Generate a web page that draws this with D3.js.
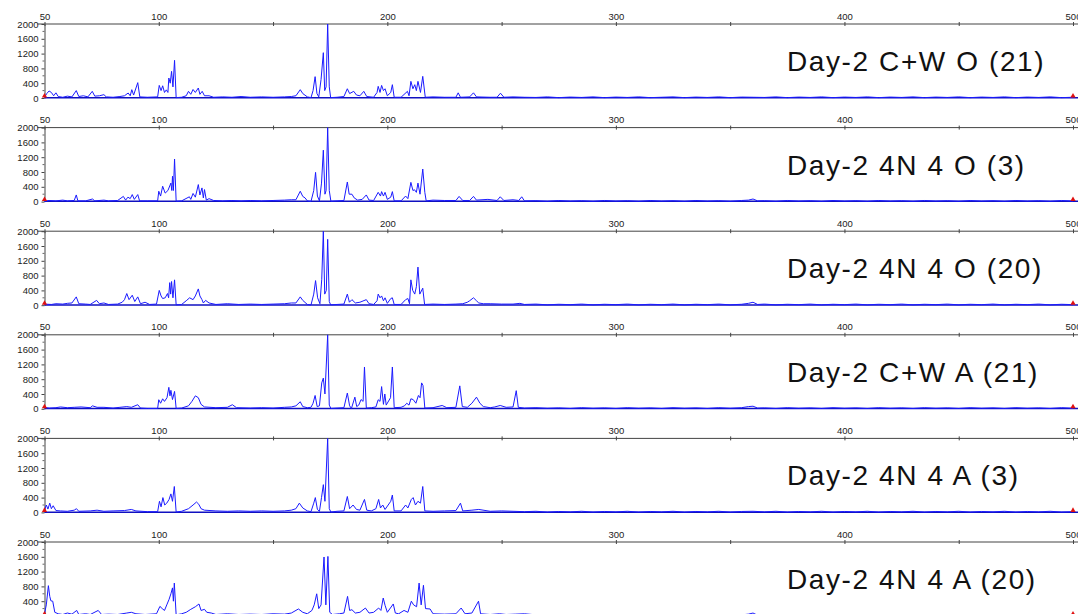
<!DOCTYPE html>
<html>
<head>
<meta charset="utf-8">
<script src="https://cdn.jsdelivr.net/npm/d3@7"></script>
<style>
  html, body { margin: 0; padding: 0; background: #ffffff; }
  svg { display: block; }
</style>
</head>
<body>
<svg id="chart" width="1078" height="614"></svg>
<script>
// Fragment-size axis (top of every trace) and intensity axis (left)
const sizeTicks = [50, 100, 150, 200, 250, 300, 350, 400, 450, 500];
const sizeTickLabels = [50, 100, 200, 300, 400, 500];
const intensityTicks = [0, 400, 800, 1200, 1600, 2000];
const intensityMinorTicks = [200, 600, 1000, 1400, 1800];
const sizeDomain = [50, 500];
const intensityDomain = [0, 2000];

// Sample names, one per trace
const sampleNames = [
  "Day-2 C+W O (21)",
  "Day-2 4N 4 O (3)",
  "Day-2 4N 4 O (20)",
  "Day-2 C+W A (21)",
  "Day-2 4N 4 A (3)",
  "Day-2 4N 4 A (20)"
];

// Electropherogram traces: [fragment size, fluorescence intensity]
const traceCWO21 = [
  [50,20],[51,120],[52,190],[53,150],[54,60],[55,140],[56,40],[58,20],[60,50],[62,30],[63.9,200],[65,40],[67,60],[69,30],
  [70.9,180],[72,50],[74,60],[76,90],[77,30],[80,20],[83,40],[85,60],[86.6,135],[87.5,60],[88.2,225],[89,80],[90.8,415],
  [91.7,30],[95,20],[99.5,30],[100.2,340],[101,200],[101.7,330],[102.5,150],[103.3,220],[104,150],[104.4,540],[105,400],
  [105.6,720],[106.2,300],[106.9,1018],[107.6,10],[110,20],[112,60],[113,180],[114,100],[115,230],[116,150],[117.3,270],
  [118,100],[119,180],[120,60],[122,60],[124,20],[128,30],[132,20],[136,40],[140,20],[145,30],[150,20],[155,30],[158,40],
  [160,60],[161.9,225],[163,120],[165,30],[166.6,10],[167.5,200],[168.4,577],[169.2,120],[170,30],[171,500],[172,1225],
  [172.6,200],[173.2,300],[173.9,2000],[174.6,300],[175.2,10],[178,20],[181,40],[182.5,250],[183.5,120],[185.3,180],
  [186.5,80],[188,60],[189.7,180],[191,40],[194,20],[195.5,150],[196,315],[196.8,150],[197.5,340],[198.3,200],[199,250],
  [200,60],[201.5,150],[202.2,360],[203,20],[206,20],[208.8,180],[209.5,60],[210.3,450],[211.2,250],[212,360],[212.7,200],
  [213.4,450],[214.5,150],[215.5,585],[216.6,20],[220,30],[225,20],[230,20],[231,140],[232,20],[236,30],[237.7,140],[239,30],
  [245,20],[248,20],[249.5,130],[251,20],[255,30],[260,20],[265,15],[270,30],[275,10],[280,25],[285,15],[290,30],[295,10],
  [300,25],[305,15],[310,30],[315,10],[320,20],[325,30],[330,10],[335,25],[340,15],[345,30],[350,10],[355,25],[360,20],
  [365,15],[370,30],[375,10],[380,25],[385,15],[390,30],[395,10],[400,25],[405,15],[410,30],[415,10],[420,25],[425,15],
  [430,30],[435,10],[440,25],[445,15],[450,30],[455,10],[460,25],[465,15],[470,30],[475,10],[480,25],[485,15],[490,30],
  [495,10],[500,20]
];

const trace4N4O3 = [
  [50,10],[52,30],[55,20],[58,40],[60,20],[63,30],[63.9,180],[64.6,20],[68,20],[71,70],[72,20],[76,40],[78,20],[82,30],
  [84.5,140],[85.5,40],[86.5,120],[87.5,80],[88.4,190],[89.3,60],[90.8,190],[91.6,20],[95,20],[99.5,20],[100,280],
  [100.8,150],[101.7,415],[102.8,230],[104,300],[105.3,500],[105.7,300],[106,685],[106.4,300],[106.9,1150],[107.6,10],
  [110,20],[113.4,130],[114,60],[115,220],[116,120],[117.3,460],[118,180],[118.9,370],[119.5,100],[120,325],[120.8,40],
  [122,80],[124,30],[128,20],[132,30],[136,20],[140,30],[145,20],[150,30],[155,40],[158,50],[160,50],[161.9,280],
  [163,140],[164,100],[165,20],[166.6,5],[167.8,300],[168.6,790],[169.4,150],[170.3,20],[171.2,500],[172,1390],
  [172.7,200],[173.2,300],[173.9,2000],[174.6,300],[175.3,10],[178,20],[181,30],[182.5,530],[183.3,200],[184.5,200],
  [185.5,100],[187,40],[189,60],[190.8,180],[192,40],[194,30],[196,250],[197,150],[197.5,270],[198.3,150],[199,250],
  [200,60],[201.5,120],[202.2,270],[203,20],[206,20],[208,150],[209,80],[210.3,520],[211.2,300],[211.9,320],[212.7,250],
  [213.4,500],[214.3,200],[215.5,880],[216.4,250],[217,20],[220,40],[225,30],[230,30],[231.4,140],[233,30],[236,30],[237.7,140],[239,40],
  [244,60],[248,30],[249.4,130],[251,30],[255,50],[257.5,30],[258.8,130],[260,20],[265,25],[270,10],[275,30],[280,15],[285,25],[290,10],
  [295,30],[300,15],[305,25],[310,10],[315,30],[320,15],[325,25],[330,10],[335,30],[340,15],[345,25],[350,10],[355,30],
  [358,40],[360,70],[362,20],[365,25],[370,10],[375,30],[380,15],[385,25],[390,10],[395,30],[400,15],[405,25],[410,10],
  [415,30],[420,15],[425,25],[430,10],[435,30],[440,15],[445,25],[450,10],[455,30],[460,15],[465,25],[470,10],[475,30],
  [480,15],[485,25],[490,10],[495,30],[500,15]
];

const trace4N4O20 = [
  [50,30],[53,20],[55,40],[58,30],[60,50],[62,60],[63.9,225],[65,40],[68,30],[70,20],[72.8,130],[74,40],[76,60],[78,20],
  [82,30],[84,80],[85,150],[86,315],[87,150],[88.4,270],[89.5,100],[90.8,225],[92,40],[94,80],[96,20],[99,30],
  [100.2,400],[101,250],[101.7,180],[102.8,200],[103.8,315],[104.3,200],[104.8,610],[105.2,300],[105.6,640],[106.2,200],
  [106.9,685],[107.6,10],[110,20],[112,120],[113.5,200],[115,150],[116,250],[117.3,440],[118,250],[118.9,150],[119.5,60],
  [120.5,130],[122,60],[125,20],[130,40],[135,20],[140,30],[145,20],[150,30],[155,40],[158,60],[160,60],[161.9,225],
  [163,130],[165,20],[166.6,5],[167.8,300],[168.6,665],[169.5,200],[170.5,40],[171.3,700],[172,2000],[172.6,300],
  [173.3,400],[173.9,1780],[174.6,100],[175.2,10],[178,20],[181,30],[182.5,300],[183.4,80],[184.5,150],[186,60],[188,80],
  [190.8,150],[192,40],[194,20],[195.5,120],[196,300],[196.8,200],[197.5,250],[198.3,120],[199,200],[200,50],[201.5,180],
  [202.2,200],[203,20],[206,20],[208,150],[209,180],[209.7,40],[210.3,685],[211.1,400],[212,300],[212.7,500],[213.4,1030],
  [214.2,300],[215.5,460],[216.3,20],[220,30],[225,20],[230,30],[233,40],[235,80],[236,120],[237.7,200],[239,120],[240,60],[242,40],[245,40],
  [250,30],[255,30],[258,50],[260,20],[265,30],[270,10],[275,25],[280,15],[285,30],[290,10],[295,25],[300,15],[305,30],[310,10],
  [315,25],[320,15],[325,30],[330,10],[335,25],[340,15],[345,30],[350,10],[355,25],[358,50],[360,80],[362,20],[365,30],
  [370,10],[375,25],[380,15],[385,30],[390,10],[395,25],[400,15],[405,30],[410,10],[415,25],[420,15],[425,30],[430,10],
  [435,25],[440,15],[445,30],[450,10],[455,25],[460,15],[465,30],[470,10],[475,25],[480,15],[485,30],[490,10],[495,25],
  [500,15]
];

const traceCWA21 = [
  [50,40],[52,20],[55,30],[57,50],[60,30],[63,40],[66,50],[70,30],[71,80],[73,40],[76,40],[80,20],[83,40],[86,60],[88,40],
  [90.8,110],[92,20],[95,10],[99.5,10],[100,245],[100.8,150],[101.7,270],[102.5,200],[103.6,300],[104.4,580],[104.9,350],
  [105.3,500],[106,250],[106.9,470],[107.6,10],[110,20],[113,80],[114.5,200],[116,350],[117.3,300],[118.5,120],[120,50],
  [125,30],[130,40],[132.2,110],[134,30],[140,20],[145,30],[150,20],[155,40],[158,50],[160,80],[161.9,190],[163,60],
  [165,30],[166.6,40],[167.5,150],[168.4,360],[169.3,60],[170.3,80],[171.3,700],[172,830],[172.7,400],[173.9,2000],
  [174.6,100],[175.3,10],[178,20],[181,30],[182.5,425],[183.5,80],[184.3,10],[185.8,315],[186.6,60],[187.5,100],
  [188.5,250],[189.4,200],[190,1130],[190.8,20],[193,30],[195,50],[196,245],[196.8,200],[197.5,600],[198.3,120],
  [198.9,400],[199.5,100],[201.4,300],[202.2,1130],[203,30],[206,40],[207.5,80],[208.5,150],[209.5,100],[210.3,270],
  [211.3,250],[212.5,150],[213.6,360],[214.3,300],[215,700],[215.6,630],[216.4,20],[220,30],[224,90],[226,30],[230,40],
  [231.7,620],[232.8,60],[235,40],[237,150],[239,315],[240.5,150],[242,60],[245,30],[247,50],[249.4,90],[252,40],
  [255,50],[256.4,490],[257.3,40],[260,20],[265,30],[270,15],[275,25],[280,10],[285,30],[290,15],[295,25],[300,10],
  [305,30],[310,15],[315,25],[320,10],[325,30],[330,15],[335,25],[340,10],[345,30],[350,15],[355,30],[358,60],[360,70],
  [362,20],[365,25],[370,10],[375,30],[380,15],[385,25],[390,10],[395,30],[400,15],[405,25],[410,10],[415,30],[420,15],
  [425,25],[430,10],[435,30],[440,15],[445,25],[450,10],[455,30],[460,15],[465,25],[470,10],[475,30],[480,15],[485,25],
  [490,10],[495,30],[500,15]
];

const trace4N4A3 = [
  [50,60],[50.8,200],[51.5,90],[52.3,250],[53,100],[53.8,180],[55,50],[57,40],[60,30],[63,60],[64,100],[65,30],[70,40],
  [73,60],[76,30],[80,40],[85,50],[88,80],[90,40],[95,20],[99.5,20],[100.3,300],[101,150],[101.8,400],[102.6,200],
  [103.5,250],[104.5,350],[105.3,500],[106,300],[106.8,700],[107.6,10],[110,30],[113,100],[115,200],[116.5,280],
  [117.5,220],[118.5,100],[120,60],[125,40],[130,30],[135,40],[140,30],[145,40],[150,30],[155,40],[158,60],[160,100],
  [161.5,250],[163,120],[165,40],[166.6,20],[167.8,250],[168.5,400],[169.4,80],[170.3,30],[171.2,400],[172,750],
  [172.7,300],[173.9,2000],[174.6,100],[175.3,10],[178,30],[181,40],[182.5,430],[183.5,100],[185,200],[186.5,80],
  [188,60],[190,350],[191,60],[193,40],[195,100],[196.2,350],[197,120],[198,200],[199,80],[201.5,300],[202.2,470],
  [203,40],[206,40],[208,200],[209,120],[210.5,350],[211.3,400],[212.3,200],[213.4,300],[214.5,250],[215.5,700],
  [216.4,40],[220,30],[225,40],[230,50],[232,250],[233,40],[237,60],[240,80],[245,30],[250,40],[255,30],[260,20],
  [265,30],[270,10],[275,25],[280,15],[285,30],[290,10],[295,25],[300,15],[305,30],[310,10],[315,25],[320,15],[325,30],
  [330,10],[335,25],[340,15],[345,30],[350,10],[355,25],[360,30],[365,15],[370,30],[375,10],[380,25],[385,15],[390,30],
  [395,10],[400,25],[405,15],[410,30],[415,10],[420,25],[425,15],[430,30],[435,10],[440,25],[445,15],[450,30],[455,10],
  [460,25],[465,15],[470,30],[475,10],[480,25],[485,15],[490,30],[495,10],[500,20]
];

const trace4N4A20 = [
  [50,60],[50.8,300],[51.7,820],[52.3,530],[52.8,410],[53.6,400],[54.5,100],[56,60],[58,40],[60,80],[62,50],[64.1,150],
  [65,40],[68,60],[70,40],[73.5,150],[75,40],[78,50],[82,40],[86,80],[88,100],[90,60],[94,40],[99,60],[100.5,260],
  [101.5,200],[102.5,150],[103.5,300],[104.5,450],[105.3,600],[106,760],[106.4,400],[106.8,890],[107.6,30],[110,60],
  [112,100],[114,180],[116,250],[117.6,325],[118.5,150],[120,180],[121,100],[123,80],[125,40],[130,60],[135,40],[140,50],
  [145,40],[150,60],[155,50],[158,80],[161.1,190],[163,100],[165,60],[167,150],[168,300],[169.1,600],[170,200],[171,300],
  [172.3,1595],[173.1,300],[174,1610],[174.8,100],[176,40],[179,60],[181,80],[182.6,530],[183.5,150],[184.5,170],
  [186,80],[188,100],[190.4,215],[192,80],[194,100],[196.2,215],[197.2,150],[198.2,485],[199,290],[200,100],[202.6,325],
  [203.5,80],[205,60],[207.3,150],[209,100],[210.5,400],[211.5,300],[212.8,250],[213.9,890],[214.8,300],[215.8,830],
  [216.7,200],[218.7,190],[220,60],[225,50],[230,60],[232.3,215],[234,60],[237,80],[239.9,400],[240.8,60],[245,40],
  [249.1,60],[252,40],[256,50],[260,60],[265,30],[270,15],[275,30],[280,10],[285,25],[290,15],[295,30],[300,10],
  [305,25],[310,15],[315,30],[320,10],[325,25],[330,15],[335,30],[340,10],[345,25],[350,15],[355,30],[358,50],[360,80],
  [362,20],[365,25],[370,10],[375,30],[380,15],[385,25],[390,10],[395,30],[400,15],[405,25],[410,10],[415,30],[420,15],
  [425,25],[430,10],[435,30],[440,15],[445,25],[450,10],[455,30],[460,15],[465,25],[470,10],[475,30],[480,15],[485,25],
  [490,10],[495,30],[500,15]
];

const traces = [traceCWO21, trace4N4O3, trace4N4O20, traceCWA21, trace4N4A3, trace4N4A20];

// Size-standard reference markers drawn on every trace
const sizeMarkers = [50, 500];

// ---- layout ----
const plotLeft = 44.5, plotRight = 1073;
const firstTop = 24, panelStep = 103.6, panelHeight = 74;

const svg = d3.select("#chart");
const x = d3.scaleLinear().domain(sizeDomain).range([plotLeft, plotRight]);
const y = d3.scaleLinear().domain(intensityDomain).range([panelHeight, 0]);

const line = d3.line()
  .x(d => x(d[0]))
  .y(d => y(d[1]));

traces.forEach((trace, i) => {
  const top = firstTop + i * panelStep;
  const g = svg.append("g").attr("transform", `translate(0,${top})`);

  // top size axis
  const xAxis = d3.axisTop(x)
    .tickValues(sizeTicks)
    .tickSizeInner(2)
    .tickSizeOuter(0)
    .tickPadding(2.5)
    .tickFormat(d => sizeTickLabels.includes(d) ? d : "");
  const ax = g.append("g").call(xAxis);
  ax.select(".domain").attr("stroke", "#444").attr("d", `M${plotLeft - 7},0H1078`);
  ax.selectAll(".tick line").attr("stroke", "#444").attr("y1", 2).attr("y2", -2);
  ax.selectAll(".tick text")
    .attr("fill", "#222")
    .style("font", "9.5px 'Liberation Sans', Arial, sans-serif");

  // left intensity axis
  const yAxis = d3.axisLeft(y)
    .tickValues(intensityTicks)
    .tickSizeInner(3)
    .tickSizeOuter(0)
    .tickPadding(3)
    .tickFormat(d3.format("d"));
  const ay = g.append("g").attr("transform", `translate(${plotLeft},0)`).call(yAxis);
  ay.select(".domain").attr("stroke", "#444");
  ay.selectAll(".tick line").attr("stroke", "#444");
  ay.selectAll(".tick text")
    .attr("fill", "#222")
    .style("font", "9.5px 'Liberation Sans', Arial, sans-serif");
  ay.selectAll(".minor")
    .data(intensityMinorTicks)
    .join("line")
    .attr("class", "minor")
    .attr("x1", -2).attr("x2", 0)
    .attr("y1", d => y(d)).attr("y2", d => y(d))
    .attr("stroke", "#666");

  // baseline
  g.append("line")
    .attr("x1", plotLeft).attr("x2", 1078)
    .attr("y1", y(0) - 0.25).attr("y2", y(0) - 0.25)
    .attr("stroke", "#1010c0").attr("stroke-width", 1.5);

  // trace
  g.append("path")
    .datum(trace)
    .attr("fill", "none")
    .attr("stroke", "#1a1aff")
    .attr("stroke-width", 1)
    .attr("stroke-linejoin", "round")
    .attr("d", line);

  // size-standard markers
  g.selectAll(".marker")
    .data(sizeMarkers)
    .join("path")
    .attr("class", "marker")
    .attr("transform", d => `translate(${x(d)},${y(0) - 2})`)
    .attr("d", d3.symbol(d3.symbolTriangle, 12))
    .attr("fill", "#e01010");

  // sample name
  g.append("text")
    .attr("x", 787)
    .attr("y", 47)
    .attr("fill", "#111")
    .style("font", "28px 'Liberation Sans', Arial, sans-serif")
    .style("letter-spacing", "1.6px")
    .text(sampleNames[i]);
});
</script>
</body>
</html>
